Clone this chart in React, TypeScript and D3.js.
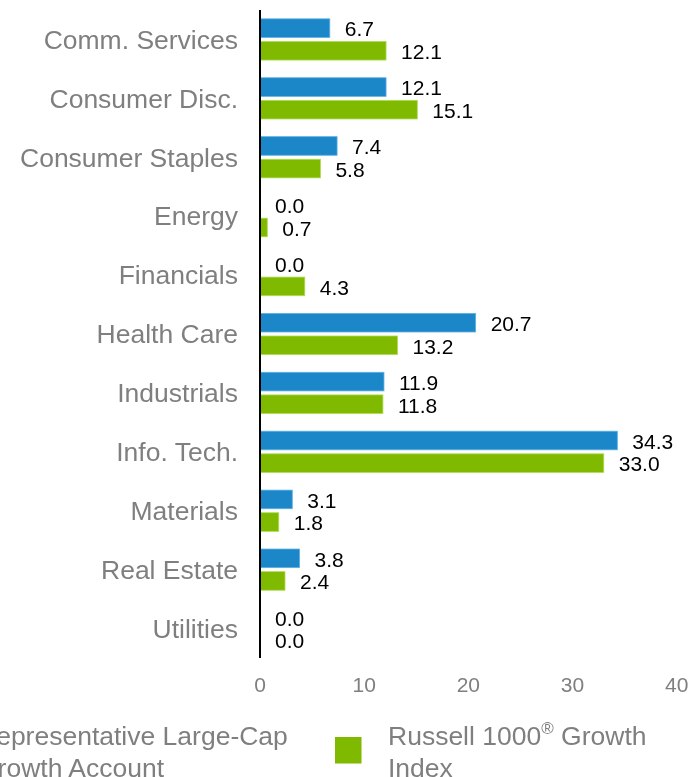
import React from "react";
import * as d3 from "d3";

const categories = [
  "Comm. Services",
  "Consumer Disc.",
  "Consumer Staples",
  "Energy",
  "Financials",
  "Health Care",
  "Industrials",
  "Info. Tech.",
  "Materials",
  "Real Estate",
  "Utilities",
];
const accountValues = [6.7, 12.1, 7.4, 0.0, 0.0, 20.7, 11.9, 34.3, 3.1, 3.8, 0.0];
const indexValues = [12.1, 15.1, 5.8, 0.7, 4.3, 13.2, 11.8, 33.0, 1.8, 2.4, 0.0];
const xTicks = [0, 10, 20, 30, 40];

const BLUE = "#1B87C9";
const GREEN = "#7FBA00";
const GRAY = "#7f7f7f";
const FONT = "'Liberation Sans', Arial, Helvetica, sans-serif";

export default function App() {
  const W = 690;
  const H = 777;
  const x = d3.scaleLinear().domain([0, 40]).range([260, 676.7]);
  const y = d3
    .scaleBand<string>()
    .domain(categories)
    .range([10, 658])
    .paddingInner(0.3)
    .paddingOuter(0.15);
  const gap = 4;
  const bh = (y.bandwidth() - gap) / 2;

  return (
    <div style={{ position: "fixed", left: 0, top: 0 }}>
      <svg width={W} height={H} style={{ display: "block", fontFamily: FONT }}>
        {categories.map((c, i) => {
          const y0 = y(c)!;
          const center = y0 + y.bandwidth() / 2;
          const a = accountValues[i];
          const b = indexValues[i];
          return (
            <g key={c}>
              <text
                x={238}
                y={center + 9.3}
                textAnchor="end"
                fontSize={26.5}
                fill={GRAY}
              >
                {c}
              </text>
              <rect
                x={x(0)}
                y={y0}
                width={x(a) - x(0)}
                height={bh}
                fill={BLUE}
                stroke={a > 0 ? "#5fb0e2" : "none"}
                strokeWidth={0.8}
              />
              <rect
                x={x(0)}
                y={y0 + bh + gap}
                width={x(b) - x(0)}
                height={bh}
                fill={GREEN}
                stroke={b > 0 ? "#b0dc55" : "none"}
                strokeWidth={0.8}
              />
              <text x={x(a) + 15} y={y0 + bh - 1} fontSize={21} fill="#000">
                {a.toFixed(1)}
              </text>
              <text
                x={x(b) + 15}
                y={y0 + 2 * bh + gap - 1}
                fontSize={21}
                fill="#000"
              >
                {b.toFixed(1)}
              </text>
            </g>
          );
        })}
        <line x1={x(0)} x2={x(0)} y1={10} y2={658} stroke="#000" strokeWidth={2} />
        {xTicks.map((t) => (
          <text
            key={t}
            x={x(t)}
            y={692}
            textAnchor="middle"
            fontSize={21}
            fill={GRAY}
          >
            {t}
          </text>
        ))}
        {/* Legend */}
        <rect x={-76} y={737} width={26.5} height={26.5} fill={BLUE} />
        <text x={-23} y={745} fontSize={26.5} fill={GRAY}>
          <tspan x={-23} dy={0}>Representative Large-Cap</tspan>
          <tspan x={-23} dy={31.5}>Growth Account</tspan>
        </text>
        <rect x={335} y={737} width={26.5} height={26.5} fill={GREEN} />
        <text x={388} y={745} fontSize={26.5} fill={GRAY}>
          <tspan x={388} dy={0}>
            Russell 1000
            <tspan fontSize={17} dy={-11}>®</tspan>
            <tspan dy={11}> Growth</tspan>
          </tspan>
          <tspan x={388} dy={31.5}>Index</tspan>
        </text>
      </svg>
    </div>
  );
}
